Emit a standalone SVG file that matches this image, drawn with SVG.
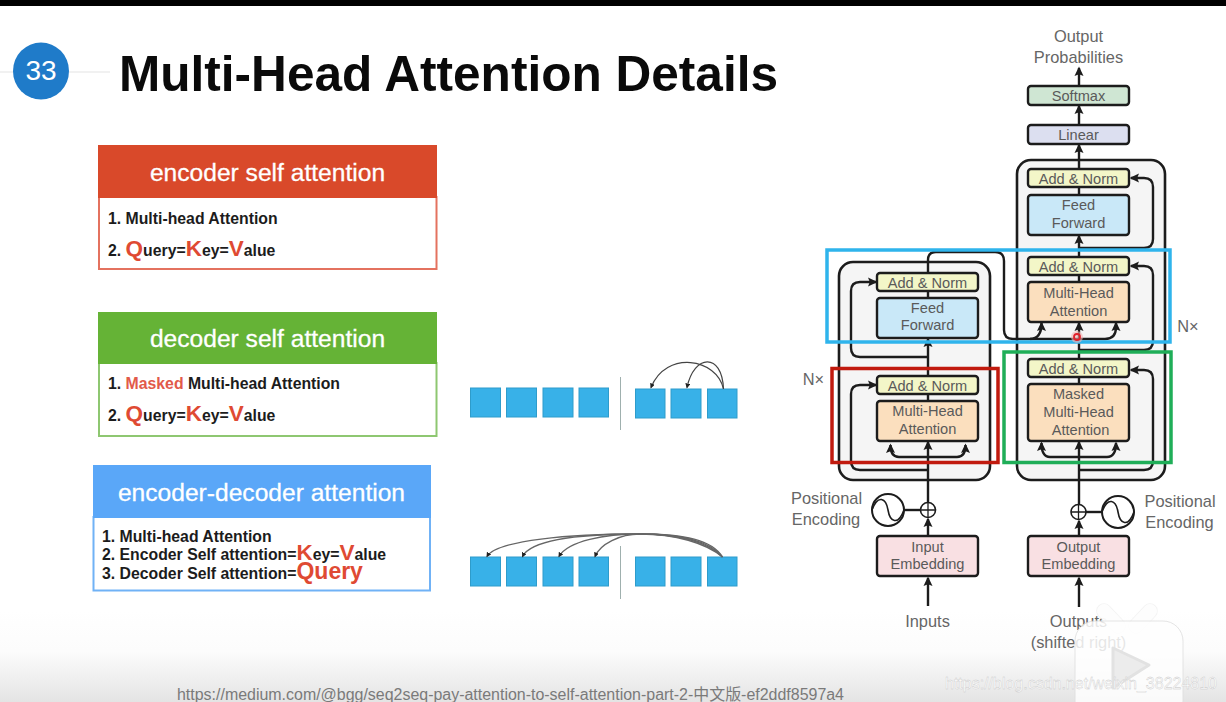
<svg xmlns="http://www.w3.org/2000/svg" width="1226" height="702" viewBox="0 0 1226 702">
<style>
text{font-family:"Liberation Sans","Noto Sans CJK SC",sans-serif}
.c{fill:none;stroke:#1c1c1c;stroke-width:2.4}
.a{marker-end:url(#ah)}
.t{font-size:14.6px;fill:#5a5a5a;text-anchor:middle}
.l{font-size:16.4px;fill:#666;text-anchor:middle}
.h{font-size:24.6px;fill:#fff;stroke:#fff;stroke-width:.3;text-anchor:middle}
.b{font-size:15.8px;font-weight:700;fill:#1c1c1c}
.r{fill:#df4a33}
.big{font-size:22.5px}
.qry{font-size:23px}
.sq{fill:#38b1e8;stroke:#2e9ccb;stroke-width:1}
.arc{fill:none;stroke:#444;stroke-width:1.2}
.arg{fill:none;stroke:#666;stroke-width:1.3}
.nd{stroke:#1c1c1c;stroke-width:2.4}
.blk{fill:#f5f5f5;stroke:#1c1c1c;stroke-width:2.6}
.add{fill:#f3f6c8}.ff{fill:#c9e8f8}.mh{fill:#fbdfbe}.em{fill:#f9e0e3}
</style>
<defs>
<marker id="ah" markerUnits="userSpaceOnUse" markerWidth="12" markerHeight="12" refX="8" refY="5" orient="auto"><path d="M0 0.5L9.500 5L0 9.500L1.800 5Z" fill="#1c1c1c"/></marker>
<marker id="sa" markerUnits="userSpaceOnUse" markerWidth="6" markerHeight="6" refX="4" refY="2.5" orient="auto"><path d="M0 0L5 2.5L0 5Z" fill="#222"/></marker>
<linearGradient id="bg" x1="0" y1="0" x2="0" y2="1"><stop offset="0" stop-color="#fff"/><stop offset=".45" stop-color="#fcfcfc"/><stop offset="1" stop-color="#e4e4e4"/></linearGradient>
</defs>
<rect width="1226" height="702" fill="#fff"/>
<rect y="610" width="1226" height="92" fill="url(#bg)"/>
<rect width="1226" height="6" fill="#000"/>
<path d="M0 72H110" stroke="#ececec" stroke-width="1.5"/>
<g id="badge"><ellipse cx="41" cy="71" rx="28" ry="28.5" fill="#1f7bc9"/><text x="41" y="80" font-size="28" fill="#fff" text-anchor="middle">33</text></g>
<text id="title" x="119" y="91" font-size="49.5" font-weight="700" fill="#0a0a0a" textLength="659" lengthAdjust="spacingAndGlyphs">Multi-Head Attention Details</text>

<g id="card-encoder">
<rect x="99" y="197" width="337.500" height="72" fill="#fff" stroke="#e4725f" stroke-width="2"/>
<rect x="98" y="145" width="339" height="53" fill="#d9492a"/>
<text class="h" x="267.500" y="181">encoder self attention</text>
<text class="b" x="108" y="224">1. Multi-head Attention</text>
<text class="b" x="108" y="256">2. <tspan class="r big">Q</tspan>uery=<tspan class="r big">K</tspan>ey=<tspan class="r big">V</tspan>alue</text>
</g>
<g id="card-decoder">
<rect x="99" y="363" width="337.500" height="73" fill="#fff" stroke="#8ec771" stroke-width="2"/>
<rect x="98" y="312" width="339" height="52" fill="#65b336"/>
<text class="h" x="267.500" y="347">decoder self attention</text>
<text class="b" x="108" y="389">1. <tspan fill="#e25a4a">Masked</tspan> Multi-head Attention</text>
<text class="b" x="108" y="421">2. <tspan class="r big">Q</tspan>uery=<tspan class="r big">K</tspan>ey=<tspan class="r big">V</tspan>alue</text>
</g>
<g id="card-encdec">
<rect x="93.500" y="517" width="336.500" height="73.500" fill="#fff" stroke="#70b2f6" stroke-width="2"/>
<rect x="93" y="465" width="338" height="53" fill="#5aa7f8"/>
<text class="h" x="261.500" y="501">encoder-decoder attention</text>
<text class="b" x="102" y="541.500">1. Multi-head Attention</text>
<text class="b" x="102" y="560">2. Encoder Self attention=<tspan class="r big">K</tspan>ey=<tspan class="r big">V</tspan>alue</text>
<text class="b" x="102" y="579">3. Decoder Self attention=<tspan class="r qry">Query</tspan></text>
</g>

<g id="seq-top">
<rect class="sq" x="470.500" y="388" width="30" height="29"/><rect class="sq" x="506.500" y="388" width="30" height="29"/><rect class="sq" x="543" y="388" width="30" height="29"/><rect class="sq" x="579" y="388" width="29.500" height="29"/>
<path d="M620.500 377V430" stroke="#9fb0ae" stroke-width="1"/>
<rect class="sq" x="635.500" y="389" width="29.500" height="29"/><rect class="sq" x="671" y="389" width="30" height="29"/><rect class="sq" x="707.500" y="389" width="29.500" height="29"/>
<path class="arc" marker-end="url(#sa)" d="M723.500 389C717 358 666 350 651 387.500"/>
<path class="arc" marker-end="url(#sa)" d="M723.500 389C722 352 694 354 687 387.500"/>
</g>
<g id="seq-bottom">
<rect class="sq" x="470.500" y="557" width="30" height="29"/><rect class="sq" x="506.500" y="557" width="30" height="29"/><rect class="sq" x="543" y="557" width="30" height="29"/><rect class="sq" x="579" y="557" width="29.500" height="29"/>
<path d="M620.500 546V599" stroke="#9fb0ae" stroke-width="1"/>
<rect class="sq" x="635.500" y="557" width="29.500" height="29"/><rect class="sq" x="671" y="557" width="30" height="29"/><rect class="sq" x="707.500" y="557" width="29.500" height="29"/>
<path class="arg" marker-end="url(#sa)" d="M722.500 557C712 540 685 534 640 534C570 534 497 540 487 556.500"/>
<path class="arg" marker-end="url(#sa)" d="M722.500 557C710 541 682 534 640 534C590 534 532 538 522.500 556.500"/>
<path class="arg" marker-end="url(#sa)" d="M722.500 557C708 542 678 534 640 534C605 534 568 541 559 556.500"/>
<path class="arg" marker-end="url(#sa)" d="M722.500 557C706 543 675 534 640 534C620 534 600 544 595 556.500"/>
</g>

<g id="encoder-block"><rect class="blk" x="839" y="262" width="151" height="218" rx="14"/></g>
<g id="decoder-block"><rect class="blk" x="1017" y="160" width="148" height="320" rx="14"/></g>

<g id="connectors">
<path class="c a" d="M928 606V578"/>
<path class="c a" d="M928 536V519"/>
<path class="c a" d="M928 503V442"/>
<path class="c a" d="M928 457H899Q890.500 457 890.500 445"/>
<path class="c a" d="M928 457H957Q965.500 457 965.500 445"/>
<path class="c a" d="M928 470H860Q851 470 851 461V394Q851 385 860 385H876"/>
<path class="c a" d="M928 376V339"/>
<path class="c" d="M928 298V291"/>
<path class="c" d="M928 401V394"/>
<path class="c a" d="M928 357H860Q851 357 851 348V291Q851 282 860 282H876"/>
<path class="c" d="M928 273V260Q928 252 936 252H995Q1004 252 1004 261V330Q1004 339 1013 339H1105Q1116 339 1116 327"/>
<path class="c a" d="M1116 330V323"/>
<path class="c a" d="M1030 339Q1041.500 339 1041.500 323"/>
<path class="c a" d="M1079 607V578"/>
<path class="c a" d="M1079 536V521"/>
<path class="c a" d="M1079 504V442"/>
<path class="c a" d="M1079 457H1050Q1041.500 457 1041.500 443"/>
<path class="c a" d="M1079 457H1107Q1116 457 1116 443"/>
<path class="c a" d="M1079 470H1144Q1153 470 1153 461V379Q1153 370 1144 370H1131"/>
<path class="c" d="M1079 384V377"/>
<path class="c a" d="M1079 359V323"/>
<path class="c a" d="M1079 350H1144Q1153 350 1153 341V275Q1153 266 1144 266H1131"/>
<path class="c" d="M1079 282V275"/>
<path class="c a" d="M1079 257V236"/>
<path class="c a" d="M1079 248H1144Q1153 248 1153 239V187Q1153 178 1144 178H1131"/>
<path class="c" d="M1079 195V187"/>
<path class="c a" d="M1079 169V145"/>
<path class="c a" d="M1079 125V106"/>
<path class="c a" d="M1079 86V68"/>
<path class="c" d="M904 510H920.500"/>
<path class="c" d="M1086 512H1102"/>
</g>

<g id="softmax"><rect class="nd" x="1028" y="86" width="101" height="19" rx="3" fill="#cfe6d3"/><text class="t" x="1078.500" y="101">Softmax</text></g>
<g id="linear"><rect class="nd" x="1028" y="125" width="101" height="19" rx="3" fill="#dcdff0"/><text class="t" x="1078.500" y="140">Linear</text></g>
<g id="dec-add3"><rect class="nd add" x="1028" y="169" width="101" height="18" rx="3"/><text class="t" x="1078.500" y="184">Add &amp; Norm</text></g>
<g id="dec-ff"><rect class="nd ff" x="1028" y="195" width="101" height="40" rx="3"/><text class="t" x="1078.500" y="210">Feed</text><text class="t" x="1078.500" y="228">Forward</text></g>
<g id="dec-add2"><rect class="nd add" x="1028" y="257" width="101" height="18" rx="3"/><text class="t" x="1078.500" y="272">Add &amp; Norm</text></g>
<g id="dec-mha"><rect class="nd mh" x="1028" y="282" width="101" height="40" rx="3"/><text class="t" x="1078.500" y="298">Multi-Head</text><text class="t" x="1078.500" y="316">Attention</text></g>
<g id="dec-add1"><rect class="nd add" x="1028" y="359" width="101" height="18" rx="3"/><text class="t" x="1078.500" y="374">Add &amp; Norm</text></g>
<g id="dec-masked"><rect class="nd mh" x="1028" y="384" width="101" height="57" rx="3"/><text class="t" x="1078.500" y="399">Masked</text><text class="t" x="1078.500" y="417">Multi-Head</text><text class="t" x="1080.500" y="435">Attention</text></g>
<g id="enc-add2"><rect class="nd add" x="877" y="273" width="101" height="18" rx="3"/><text class="t" x="927.500" y="288">Add &amp; Norm</text></g>
<g id="enc-ff"><rect class="nd ff" x="877" y="298" width="101" height="40" rx="3"/><text class="t" x="927.500" y="313">Feed</text><text class="t" x="927.500" y="330">Forward</text></g>
<g id="enc-add1"><rect class="nd add" x="877" y="376" width="101" height="18" rx="3"/><text class="t" x="927.500" y="391">Add &amp; Norm</text></g>
<g id="enc-mha"><rect class="nd mh" x="877" y="401" width="101" height="40" rx="3"/><text class="t" x="927.500" y="416">Multi-Head</text><text class="t" x="927.500" y="434">Attention</text></g>
<g id="input-embedding"><rect class="nd em" x="877" y="536" width="101" height="40" rx="3"/><text class="t" x="927.500" y="552">Input</text><text class="t" x="927.500" y="569">Embedding</text></g>
<g id="output-embedding"><rect class="nd em" x="1028" y="536" width="101" height="40" rx="3"/><text class="t" x="1078.500" y="552">Output</text><text class="t" x="1078.500" y="569">Embedding</text></g>

<g id="enc-pos"><circle cx="888" cy="510" r="16" fill="#fff" stroke="#1c1c1c" stroke-width="2"/><path d="M872 510C878 494 886 498 888 510S898 526 904 510" fill="none" stroke="#1c1c1c" stroke-width="1.600"/></g>
<g id="enc-plus"><circle cx="928" cy="510" r="7.500" fill="#fff" stroke="#1c1c1c" stroke-width="1.600"/><path d="M920.500 510H935.500M928 502.500V517.500" stroke="#1c1c1c" stroke-width="1.300"/></g>
<g id="dec-pos"><circle cx="1118" cy="512" r="16" fill="#fff" stroke="#1c1c1c" stroke-width="2"/><path d="M1102 512C1108 496 1116 500 1118 512S1128 528 1134 512" fill="none" stroke="#1c1c1c" stroke-width="1.600"/></g>
<g id="dec-plus"><circle cx="1078.500" cy="512" r="7.500" fill="#fff" stroke="#1c1c1c" stroke-width="1.600"/><path d="M1071 512H1086M1078.500 504.500V519.500" stroke="#1c1c1c" stroke-width="1.300"/></g>

<text class="l" x="1078.500" y="42">Output</text>
<text class="l" x="1078.500" y="63">Probabilities</text>
<text class="l" x="1188" y="332">N×</text>
<text class="l" x="813.500" y="385">N×</text>
<text class="l" x="826.500" y="504">Positional</text>
<text class="l" x="826" y="525">Encoding</text>
<text class="l" x="1180" y="507">Positional</text>
<text class="l" x="1179.500" y="528">Encoding</text>
<text class="l" x="927.500" y="627">Inputs</text>
<text class="l" x="1078.500" y="627">Outputs</text>
<text class="l" x="1078.500" y="648">(shifted right)</text>

<g id="highlights" fill="none" stroke-width="3.500">
<rect x="827" y="250" width="343" height="92" stroke="#2fb4ec"/>
<rect x="1004" y="352" width="167" height="110.500" stroke="#1fae58"/>
<rect x="832" y="368.500" width="166" height="94" stroke="#c11a0e"/>
</g>
<circle cx="1077" cy="337" r="6" fill="#f3b5b5" opacity=".6"/>
<circle cx="1077" cy="337" r="3" fill="none" stroke="#e0202a" stroke-width="1.800"/>

<text id="url" x="177" y="700" font-size="16" fill="#7a7a7a" textLength="667" lengthAdjust="spacingAndGlyphs">https://medium.com/@bgg/seq2seq-pay-attention-to-self-attention-part-2-中文版-ef2ddf8597a4</text>

<g id="watermark">
<path d="M1104 611L1118 626M1150 611L1136 626" stroke="#e9e9e9" stroke-width="15.500" stroke-linecap="round" opacity=".5"/>
<path d="M1104 611L1118 626M1150 611L1136 626" stroke="#fff" stroke-width="14" stroke-linecap="round" opacity=".9"/>
<rect x="1075" y="621" width="108" height="100" rx="20" fill="#fff" opacity=".84" stroke="#e0e0e0" stroke-width="1"/>
<path d="M1113 648V688L1149 665Z" fill="#ececec" stroke="#e2e2e2" stroke-width="3" stroke-linejoin="round"/>
<text x="945" y="689" font-size="16.500" fill="#fff" stroke="#c4c4c4" stroke-width=".35" textLength="272" lengthAdjust="spacingAndGlyphs">https://blog.csdn.net/weixin_38224810</text>
</g>
</svg>
